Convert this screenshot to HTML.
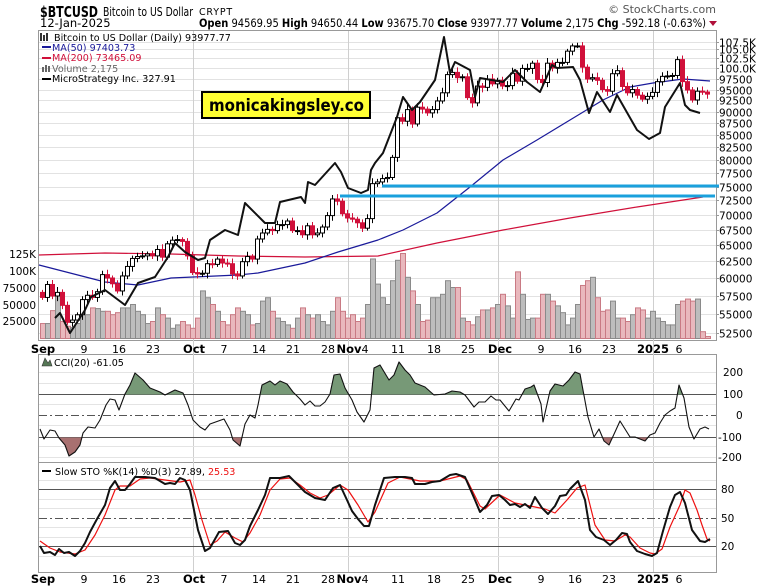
<!DOCTYPE html>
<html><head><meta charset="utf-8">
<style>
html,body{margin:0;padding:0;background:#fff;}
svg{display:block;}
text{font-family:"DejaVu Sans","Liberation Sans",sans-serif;}
</style></head>
<body>
<svg id="c" width="760" height="588" xmlns="http://www.w3.org/2000/svg"></svg>
<script>
var S=[];
var TB=[[107500,42],[105000,49],[102500,58],[100000,68],[97500,79],[95000,90],[92500,100],[90000,112],[87500,123],[85000,135],[82500,147],[80000,160],[77500,173],[75000,187],[72500,200],[70000,215],[67500,230],[65000,245],[62500,261],[60000,278],[57500,296],[55000,314],[52500,333]];
function Y(v){if(v>=TB[0][0])return TB[0][1]-(v-TB[0][0])/2500*7;
 for(var i=0;i<TB.length-1;i++){var a=TB[i],b=TB[i+1];if(v<=a[0]&&v>=b[0])return a[1]+(a[0]-v)/(a[0]-b[0])*(b[1]-a[1]);}
 return 333+(52500-v)/2500*19;}
function X(d){return 42+5*d;}
function t(x,y,s,o){S.push('<text x="'+x+'" y="'+y+'" '+(o||'')+'>'+s+'</text>');}
S.push('<rect x="38.5" y="30.5" width="678" height="310" fill="#fff" stroke="#999"/>');
S.push('<rect x="38.5" y="354.5" width="678" height="108" fill="#fff" stroke="#999"/>');
S.push('<rect x="38.5" y="462.5" width="678" height="110" fill="#fff" stroke="#999"/>');
TB.forEach(function(a){var v=a[0],yy=a[1]+0.5;S.push('<line x1="39" x2="716" y1="'+yy+'" y2="'+yy+'" stroke="#e2e2e2"/>');
 var lab=v>=100000?(v/1000).toFixed(1)+'K':String(v);t(719,yy+4,lab,'font-size="10.5"');
 S.push('<line x1="716" x2="719" y1="'+yy+'" y2="'+yy+'" stroke="#999"/>');});
[193,348,498,653].forEach(function(x){S.push('<line x1="'+(x+.5)+'" x2="'+(x+.5)+'" y1="31" y2="572" stroke="#cfcfcf"/>');});
[372,383,404,425,446,457].forEach(function(y){S.push('<line x1="39" x2="716" y1="'+(y+.5)+'" y2="'+(y+.5)+'" stroke="#e4e4e4"/>');});
S.push('<line x1="39" x2="716" y1="394.5" y2="394.5" stroke="#555"/><line x1="39" x2="716" y1="437.5" y2="437.5" stroke="#555"/>');
S.push('<line x1="39" x2="716" y1="415.5" y2="415.5" stroke="#555" stroke-dasharray="8,3,2,3"/>');
[[372,'200',723],[394,'100',723],[415,'0',736],[437,'-100',718],[457,'-200',718]].forEach(function(a){t(a[2],a[0]+4,a[1],'font-size="10.5"');});
[480,499,508,527,537,556].forEach(function(y){S.push('<line x1="39" x2="716" y1="'+(y+.5)+'" y2="'+(y+.5)+'" stroke="#e4e4e4"/>');});
S.push('<line x1="39" x2="716" y1="489.5" y2="489.5" stroke="#555"/><line x1="39" x2="716" y1="546.5" y2="546.5" stroke="#555"/>');
S.push('<line x1="39" x2="716" y1="518.5" y2="518.5" stroke="#555" stroke-dasharray="8,3,2,3"/>');
t(721,493,'80','font-size="10.5"');t(721,522,'50','font-size="10.5"');t(721,550,'20','font-size="10.5"');
var vol=[22,22,41,66,25,18,16,22,40,35,45,44,40,40,35,38,45,45,50,40,35,22,25,45,35,30,15,20,25,20,
15,30,70,60,50,40,25,20,35,45,40,35,20,22,55,60,40,30,25,20,15,30,45,35,30,35,25,20,40,60,40,
30,35,25,30,50,117,80,60,50,85,115,125,90,70,50,25,27,60,60,65,85,75,75,30,25,20,32,42,42,45,
50,65,48,30,98,65,28,30,30,65,65,55,48,38,20,30,50,78,85,90,60,40,42,55,30,30,25,35,45,42,30,
40,30,25,20,20,50,55,58,55,58,10,3];
var cl=[57300,59100,57500,58000,56200,53900,54200,54900,57000,57600,57300,58100,60500,60000,59200,58200,60300,61700,62900,63200,63300,63600,63300,64300,63100,65200,65800,65900,65600,63300,
60800,60600,60700,62100,62000,62800,62200,62100,60600,60300,62400,63200,62800,66000,67000,67600,67400,68400,68400,69000,67400,67400,66700,68200,66700,67000,68000,69900,72700,72300,70200,
69500,69300,68700,67800,69400,75600,75900,76500,76700,80500,88700,87900,90500,87300,91000,90600,89800,90500,92300,94300,98500,99000,97800,98000,93100,91900,95900,95600,97500,96400,
97200,95900,96000,98800,97000,99900,99900,101200,97400,96700,101200,100000,101400,101400,104400,106100,106100,100200,97500,97800,97200,95100,94700,98700,99400,95800,94300,95100,93700,92700,93400,
94400,96900,98100,98200,98300,102100,96900,95000,92500,94700,94500,93978];
var prev=58200;
for(var i=0;i<cl.length;i++){var up=cl[i]>=prev;var h=vol[i]*0.68;var x=X(i)-2;
 S.push('<rect x="'+(x+.5)+'" y="'+(338-h+.5)+'" width="5" height="'+h+'" fill="'+(up?'#bdbdbd':'#e9b8bd')+'" stroke="'+(up?'#8a8a8a':'#c97a84')+'" stroke-width="1"/>');prev=cl[i];}
function pl(p,c,w){S.push('<polyline points="'+p+'" fill="none" stroke="'+c+'" stroke-width="'+w+'" stroke-linejoin="round"/>');}
pl('39,255 71,254 105,253 171,254 238,256 305,257 378,256 437,243 503,230 570,218 637,207 703,197','#d0103a',1.2);
pl('39,265 105,282 138,285 171,278 238,275 258,273 305,263 338,252 378,240 403,230 437,213 470,187 503,160 537,140 570,120 603,100 630,87 653,83 683,79 710,81','#1a1a9a',1.2);
prev=58000;
for(var i=0;i<cl.length;i++){var o=prev,c=cl[i];var hi=Math.max(o,c)*(1+0.006+0.008*((i*37)%7)/7),lo=Math.min(o,c)*(1-0.006-0.008*((i*53)%5)/5);
 var x=X(i);var up=c>=o;var col=up?'#000':'#d0103a';
 S.push('<line x1="'+(x+.5)+'" x2="'+(x+.5)+'" y1="'+Y(hi)+'" y2="'+Y(lo)+'" stroke="'+col+'"/>');
 var y1=Y(Math.max(o,c)),y2=Y(Math.min(o,c));if(y2-y1<1)y2=y1+1;
 S.push('<rect x="'+(x-1.5)+'" y="'+y1+'" width="4" height="'+(y2-y1)+'" fill="'+(up?'#fff':'#d0103a')+'" stroke="'+col+'"/>');prev=c;}
pl('55,318 60,313 70,333 85,310 91,297 105,290 125,305 138,283 155,277 168,257 175,243 185,252 198,260 205,258 210,240 225,230 238,235 245,203 265,223 275,223 280,202 301,197 305,203 308,182 315,185 335,163 341,172 348,188 361,193 368,190 371,170 375,163 383,153 397,117 403,97 412,110 420,102 435,80 444,37 450,73 455,62 470,70 475,97 480,78 503,82 515,70 527,82 540,92 552,65 557,68 573,67 580,80 589,113 597,92 610,112 617,95 637,130 649,139 660,133 665,107 680,83 685,105 690,110 700,113','#111',2);
S.push('<line x1="382" x2="719" y1="186" y2="186" stroke="#1aa0dc" stroke-width="3"/>');
S.push('<line x1="340" x2="715" y1="196" y2="196" stroke="#1aa0dc" stroke-width="3"/>');
S.push('<rect x="202" y="92" width="168" height="26" fill="#ffff33" stroke="#000" stroke-width="2"/>');
t(209,111,'monicakingsley.co','font-family="Liberation Sans" font-weight="bold" font-size="17" textLength="155" lengthAdjust="spacingAndGlyphs"');
S.push('<rect x="40" y="33" width="2" height="8" fill="#333"/><rect x="43" y="35" width="2" height="6" fill="#333"/><rect x="46" y="33" width="2" height="8" fill="#333"/>');
t(54,41,'Bitcoin to US Dollar (Daily) 93977.77','font-size="9.6"');
S.push('<rect x="42" y="46" width="9" height="2" fill="#1a1a9a"/>');t(52,51,'MA(50) 97403.73','font-size="9.6" fill="#1a1a9a"');
S.push('<rect x="42" y="57" width="9" height="2" fill="#d0103a"/>');t(52,61,'MA(200) 73465.09','font-size="9.6" fill="#d0103a"');
S.push('<rect x="42" y="67" width="2" height="5" fill="#666"/><rect x="45" y="65" width="2" height="7" fill="#666"/><rect x="48" y="66" width="2" height="6" fill="#666"/>');t(52,72,'Volume 2,175','font-size="9.6" fill="#666"');
S.push('<rect x="42" y="78" width="9" height="2" fill="#000"/>');t(52,82,'MicroStrategy Inc. 327.91','font-size="9.6"');
[[254,'125K'],[271,'100K'],[288,'75000'],[305,'50000'],[321,'25000']].forEach(function(a){t(36,a[0]+4,a[1],'font-size="10.5" text-anchor="end"');});
function cci(){return '40,429 44,439 50,430 55,431 59,438 65,445 69,456 75,452 80,445 83,433 88,427 95,428 100,420 106,405 110,399 115,400 119,410 125,394 130,385 135,373 143,380 150,388 160,392 165,395 175,390 183,393 188,405 193,420 200,427 205,430 210,424 224,419 230,430 233,440 240,446 245,424 250,415 255,418 258,405 262,385 270,381 275,385 280,381 287,384 293,392 300,399 305,405 310,401 315,406 320,406 325,402 330,394 334,375 340,374 345,388 352,400 357,412 364,422 370,410 374,368 380,365 389,380 394,375 399,362 405,370 410,375 415,383 425,387 434,395 445,394 452,391 460,392 465,395 474,407 479,402 485,402 491,396 496,400 500,400 509,411 516,399 519,400 525,389 531,387 534,385 541,404 543,422 550,391 555,384 563,386 569,380 575,372 580,374 588,417 594,437 599,429 604,441 609,445 615,432 620,421 630,437 635,437 645,441 650,435 655,433 660,423 665,415 670,411 675,408 679,385 684,398 689,427 694,439 700,429 705,427 709,429';}
S.push('<defs><clipPath id="ca"><rect x="39" y="355" width="677" height="39.5"/></clipPath><clipPath id="cb"><rect x="39" y="437.5" width="677" height="25"/></clipPath></defs>');
S.push('<polygon points="'+cci()+' 709,394.5 40,394.5" fill="#779977" clip-path="url(#ca)"/>');
S.push('<polygon points="'+cci()+' 709,437.5 40,437.5" fill="#a87070" clip-path="url(#cb)"/>');
pl(cci(),'#111',1.1);
S.push('<polygon points="42,366 45,358 48,363 50,360 52,366" fill="#557755" stroke="#333" stroke-width=".6"/>');
t(54,366,'CCI(20) -61.05','font-size="9.6"');
pl('40,541 50,548 60,552 75,554 85,550 95,535 105,515 115,490 120,486 130,486 140,479 150,478 165,480 180,482 190,480 195,495 202,520 210,545 217,541 225,532 235,538 243,542 250,533 260,515 270,490 280,479 290,478 300,485 310,493 320,498 328,495 340,485 348,490 358,505 368,522 375,512 388,483 400,477 420,481 440,481 460,476 467,480 480,506 485,509 500,495 515,503 530,506 545,509 555,513 567,500 577,488 585,485 595,525 605,540 615,541 625,535 630,537 640,548 650,553 655,554 662,549 670,527 680,505 685,490 690,493 697,510 702,525 707,539 710,541','#ee1111',1.2);
pl('40,546 44,553 50,552 55,555 59,549 64,553 69,552 75,556 80,551 85,543 90,532 97,519 105,505 110,488 115,481 120,490 125,490 130,484 135,477 145,477 155,478 165,484 170,483 175,484 180,478 185,480 190,490 193,505 198,530 205,551 210,548 219,532 228,531 235,543 240,545 245,540 250,526 258,510 265,495 270,478 280,478 289,476 295,482 305,492 315,498 325,500 333,488 340,485 347,500 352,511 358,519 364,526 369,526 375,505 384,478 395,477 405,477 412,478 415,484 425,484 432,482 440,481 450,475 456,474 465,477 475,500 480,512 487,505 492,496 499,495 505,500 510,505 515,504 520,507 525,504 530,508 535,497 542,508 548,514 555,506 560,496 566,495 570,489 578,481 585,500 590,530 596,537 604,540 610,545 616,540 622,533 627,534 630,542 637,551 645,554 652,556 657,553 663,531 670,507 675,495 680,492 685,503 692,530 700,541 705,542 710,539','#111',2);
S.push('<rect x="42" y="470" width="9" height="2" fill="#000"/>');
t(55,475,'Slow STO %K(14) %D(3) 27.89, <tspan fill="#ee1111">25.53</tspan>','font-size="9.6"');
var xl=[[43,'Sep',1],[84,'9'],[119,'16'],[153,'23'],[194,'Oct',1],[224,'7'],[259,'14'],[293,'21'],[328,'28'],[349,'Nov',1],[365,'4'],[398,'11'],[434,'18'],[468,'25'],[500,'Dec',1],[541,'9'],[575,'16'],[609,'23'],[653,'2025',1],[679,'6']];
[353,583].forEach(function(yb){xl.forEach(function(a){t(a[0],yb,a[1],'font-size="'+(a[2]?11.5:11)+'" text-anchor="middle" font-family="Liberation Sans"'+(a[2]?' font-weight="bold"':''));});});
t(40,17,'$BTCUSD','font-family="Liberation Sans" font-weight="bold" font-size="15" textLength="58" lengthAdjust="spacingAndGlyphs"');
t(103,16,'Bitcoin to US Dollar','font-family="Liberation Sans" font-size="12" textLength="90" lengthAdjust="spacingAndGlyphs"');
t(199,15,'CRYPT','font-size="9.5" letter-spacing="0.8"');
t(40,27,'12-Jan-2025','font-family="Liberation Sans" font-size="11.5"');
t(199,27,'<tspan font-weight="bold">Open</tspan> 94569.95 <tspan font-weight="bold">High</tspan> 94650.44 <tspan font-weight="bold">Low</tspan> 93675.70 <tspan font-weight="bold">Close</tspan> 93977.77 <tspan font-weight="bold">Volume</tspan> 2,175 <tspan font-weight="bold">Chg</tspan> -592.18 (-0.63%)','font-family="Liberation Sans" font-size="11.5" textLength="507" lengthAdjust="spacingAndGlyphs"');
S.push('<polygon points="709,21 717,21 713,26" fill="#b0103a"/>');
t(716,13,'© StockCharts.com','font-family="Liberation Sans" font-size="11" fill="#555" text-anchor="end"');
document.getElementById('c').innerHTML=S.join('');
</script>
</body></html>
